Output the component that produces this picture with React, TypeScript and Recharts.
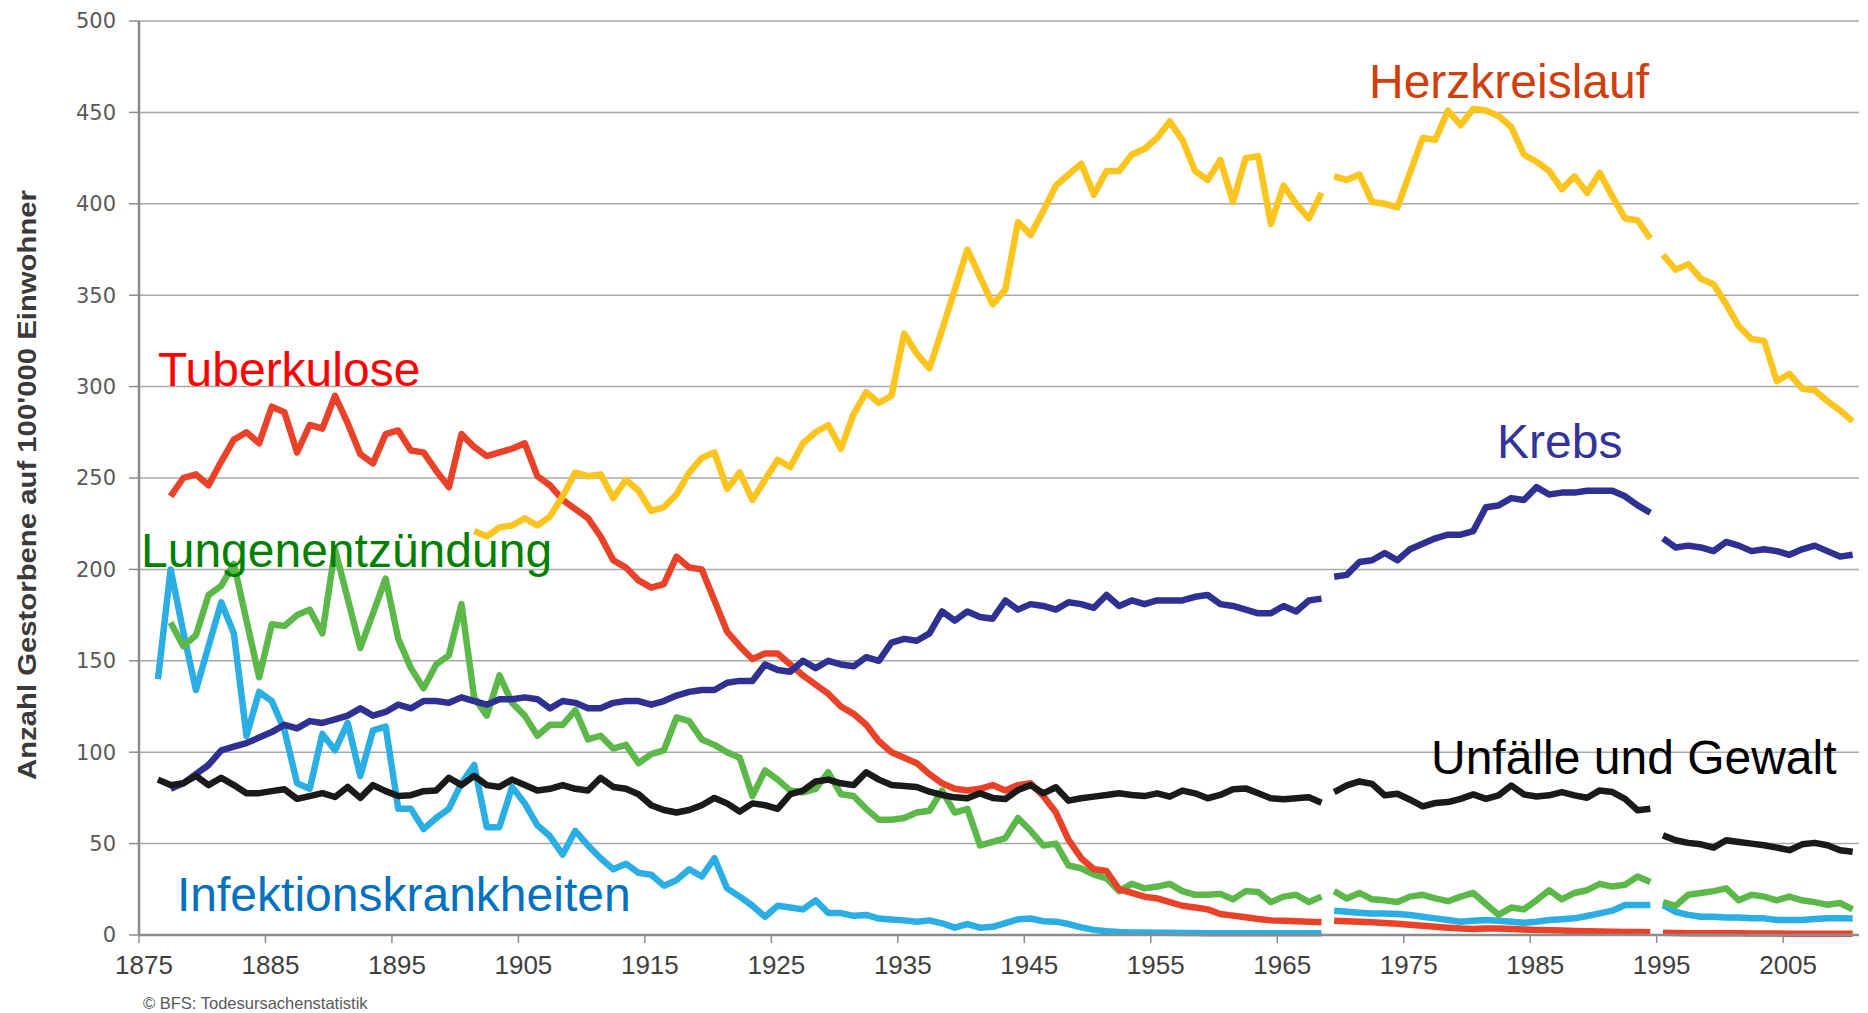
import { LineChart, Line, XAxis, YAxis, CartesianGrid } from "recharts";

// Todesursachen in der Schweiz, Gestorbene auf 100'000 Einwohner, 1876-2010
const FIRST_YEAR = 1876;
const LAST_YEAR = 2010;
// the statistic was revised in 1969 and 1995, the lines break there
const BREAKS = [1969, 1995];

const years = Array.from({ length: LAST_YEAR - FIRST_YEAR + 1 }, (_, i) => FIRST_YEAR + i);

// one value per year, 1876 .. 2010 (ten per row)
const tuberkulose = [
  null, 240, 250, 252, 246, 259, 271, 275, 269, 289,
  286, 264, 279, 277, 295, 280, 263, 258, 274, 276,
  265, 264, 254, 245, 274, 267, 262, 264, 266, 269,
  251, 246, 238, 233, 228, 218, 205, 201, 194, 190,
  192, 207, 201, 200, 183, 166, 158, 151, 154, 154,
  148, 142, 137, 132, 125, 121, 115, 106, 100, 97,
  94, 88, 83, 80, 79, 80, 82, 79, 82, 83,
  76, 67, 52, 42, 36, 35, 25, 23, 21, 20,
  18, 16, 15, 14, 11.5, 10.6, 9.7, 8.8, 8, 7.8,
  7.5, 7.3, 7, 7.8, 7.5, 7.2, 7, 6.6, 6.2, 5.6,
  5, 4.5, 4, 3.5, 3.3, 3.6, 3.6, 3.3, 3, 2.8,
  2.6, 2.4, 2.2, 2, 1.9, 1.8, 1.7, 1.6, 1.5, 1.2,
  1.1, 1, 1, 0.9, 0.9, 0.9, 0.8, 0.8, 0.8, 0.7,
  0.7, 0.7, 0.7, 0.7, 0.7,
];

const herzkreislauf = [
  null, null, null, null, null, null, null, null, null, null,
  null, null, null, null, null, null, null, null, null, null,
  null, null, null, null, null, 221, 218, 223, 224, 228,
  224, 229, 240, 253, 251, 252, 239, 249, 243, 232,
  234, 241, 253, 261, 264, 244, 253, 238, 249, 260,
  256, 269, 275, 279, 266, 285, 297, 291, 295, 329,
  318, 310, 331, 353, 375, 360, 345, 353, 390, 383,
  396, 410, 416, 422, 405, 418, 418, 427, 430, 436,
  445, 435, 418, 413, 424, 401, 425, 426, 389, 410,
  400, 392, 406, 415, 413, 416, 401, 400, 398, 417,
  436, 435, 451, 443, 452, 451, 448, 442, 427, 423,
  418, 408, 415, 406, 417, 404, 392, 391, 381, 372,
  364, 367, 359, 356, 345, 333, 326, 325, 303, 307,
  299, 298, 292, 287, 281,
];

const krebs = [
  null, 80, 83, 88, 93, 101, 103, 105, 108, 111,
  115, 113, 117, 116, 118, 120, 124, 120, 122, 126,
  124, 128, 128, 127, 130, 128, 126, 129, 129, 130,
  129, 124, 128, 127, 124, 124, 127, 128, 128, 126,
  128, 131, 133, 134, 134, 138, 139, 139, 148, 145,
  144, 150, 146, 150, 148, 147, 152, 150, 160, 162,
  161, 165, 177, 172, 177, 174, 173, 183, 178, 181,
  180, 178, 182, 181, 179, 186, 180, 183, 181, 183,
  183, 183, 185, 186, 181, 180, 178, 176, 176, 180,
  177, 183, 184, 196, 197, 204, 205, 209, 205, 211,
  214, 217, 219, 219, 221, 234, 235, 239, 238, 245,
  241, 242, 242, 243, 243, 243, 240, 235, 231, 217,
  212, 213, 212, 210, 215, 213, 210, 211, 210, 208,
  211, 213, 210, 207, 208,
];

const lungenentzuendung = [
  null, 171, 158, 164, 186, 191, 203, 172, 141, 170,
  169, 175, 178, 165, 211, 184, 157, 176, 195, 162,
  146, 135, 148, 153, 181, 130, 120, 142, 127, 120,
  109, 115, 115, 123, 107, 109, 102, 104, 94, 99,
  101, 119, 117, 107, 104, 100, 97, 76, 90, 85,
  79, 78, 80, 89, 77, 76, 69, 63, 63, 64,
  67, 68, 79, 67, 69, 49, 51, 53, 64, 57,
  49, 50, 38, 36.5, 33, 31, 24, 28, 25.5, 26.5,
  28, 24, 22, 22, 22.5, 19.5, 24, 23.5, 18, 21,
  22, 18, 21, 24, 20, 23, 19.5, 19, 18, 21,
  22, 20, 18.5, 21, 23, 17, 11, 15, 14, 19,
  24.5, 19.5, 23, 24.5, 28, 26.5, 27.5, 32, 29, 18,
  16, 22, 23, 24, 25.5, 19, 22, 21, 19, 21,
  19, 18, 16.5, 17.5, 14,
];

const infektionskrankheiten = [
  140, 200, 166, 134, 158, 182, 165, 109, 133, 128,
  112, 83, 80, 110, 101, 116, 87, 112, 114, 69,
  69, 58, 64, 69, 83, 93, 59, 59, 81, 72,
  60, 54, 44, 57, 49, 42, 36, 39, 34, 33,
  27, 30, 36, 32, 42, 25.5, 21, 16, 10, 16,
  15, 14, 19, 12, 12, 10.5, 11, 9, 8.5, 8,
  7.3, 8, 6.4, 4, 6, 4, 4.5, 6.5, 8.6, 9,
  7.5, 7.3, 6, 4.2, 2.8, 2, 1.6, 1.4, 1.3, 1.2,
  1.2, 1.1, 1.1, 1, 1, 1, 1, 1, 1, 1,
  1, 1, 1, 13.3, 12.7, 12.2, 11.8, 11.8, 11.5, 10.9,
  10, 9.1, 8.2, 7.3, 7.8, 8.2, 7.8, 7.3, 6.7, 7.3,
  8.2, 8.6, 9.1, 10.4, 11.8, 13.3, 16.4, 16.4, 16.4, 16.4,
  12.7, 11, 10, 10, 9.6, 9.6, 9.1, 9.1, 8.2, 8.2,
  8.2, 8.7, 9.1, 9.1, 9,
];

const unfaelle = [
  85, 82, 83, 87, 82, 86, 82, 77.6, 77.6, 78.7,
  79.7, 74.5, 76, 77.6, 75.5, 81, 75, 82, 78.7, 76,
  76.5, 78.7, 79, 86, 82, 87, 82, 81, 85, 82,
  79, 80, 82, 80, 79, 86, 81, 80, 77, 71,
  68.4, 67, 68.4, 71, 75, 72, 67.5, 72, 71, 69,
  77, 79, 84, 85, 83, 82, 89, 85, 82, 81.5,
  81, 78.4, 76.6, 75.3, 74.8, 77.5, 75, 74.4, 79.3, 82,
  77.5, 80.8, 73.5, 74.8, 75.7, 76.6, 77.5, 76.6, 76, 77.5,
  75.7, 79, 77.5, 74.8, 76.6, 79.7, 80.2, 77.5, 74.8, 74.2,
  74.8, 75.3, 72.4, 78.2, 81.8, 84, 82.7, 76.4, 77.3, 74,
  70.4, 72.2, 72.7, 74.5, 76.9, 74.5, 76.4, 81.8, 76.9, 75.8,
  76.4, 78.2, 76.4, 75.1, 79.1, 78.2, 74.5, 68.2, 69.1, 54.5,
  51.8, 50.4, 49.6, 47.8, 51.8, 50.9, 50, 49.1, 47.8, 46.4,
  49.6, 50.4, 49.1, 46.4, 45.5,
];

const xTicks = [1875, 1885, 1895, 1905, 1915, 1925, 1935, 1945, 1955, 1965, 1975, 1985, 1995, 2005];
const yTicks = [0, 50, 100, 150, 200, 250, 300, 350, 400, 450, 500];

// drawing order: later ones lie on top
const SERIES = [
  { key: "infekt", values: infektionskrankheiten, color: "#2AAEE4" },
  { key: "lungen", values: lungenentzuendung, color: "#5DB84A" },
  { key: "tb", values: tuberkulose, color: "#EA4228" },
  { key: "krebs", values: krebs, color: "#2F3192" },
  { key: "herz", values: herzkreislauf, color: "#FCC41E" },
  { key: "unfall", values: unfaelle, color: "#1A1A1A" },
];

const LABELS = [
  { text: "Tuberkulose", x: 158, y: 386, color: "#FF0000" },
  { text: "Lungenentzündung", x: 141, y: 567, color: "#008000" },
  { text: "Infektionskrankheiten", x: 177, y: 911, color: "#0070C0" },
  { text: "Herzkreislauf", x: 1369, y: 98, color: "#D0400C" },
  { text: "Krebs", x: 1497, y: 458, color: "#333399" },
  { text: "Unfälle und Gewalt", x: 1431, y: 774, color: "#000000" },
];

function segmentOf(year: number) {
  if (year < BREAKS[0]) return 0;
  if (year < BREAKS[1]) return 1;
  return 2;
}

// annual rates are plotted at mid-year
const rows = years.map((year, i) => {
  const row: Record<string, number | null> = { t: year + 0.5 };
  const seg = segmentOf(year);
  for (const s of SERIES) {
    for (let k = 0; k < 3; k++) {
      row[s.key + k] = k === seg ? s.values[i] : null;
    }
  }
  return row;
});

const FONT = "'Liberation Sans', Arial, sans-serif";

function XTick(props: any) {
  const { x, y, payload } = props;
  return (
    <text
      x={x + 5}
      y={y}
      dy="0.71em"
      textAnchor="middle"
      fill="#404040"
      fontSize={26}
      fontFamily="'Liberation Sans Narrow', 'Arial Narrow', 'Liberation Sans', sans-serif"
    >
      {payload.value}
    </text>
  );
}

export default function App() {
  return (
    <div style={{ position: "absolute", left: 0, top: 0, width: 1868, height: 1013, background: "#fff" }}>
      <LineChart
        width={1868}
        height={1013}
        data={rows}
        margin={{ top: 21, right: 9, bottom: 28, left: 0 }}
        style={{ fontFamily: FONT }}
      >
        <CartesianGrid vertical={false} stroke="#a8a8a8" strokeWidth={1.5} />
        <XAxis
          type="number"
          dataKey="t"
          domain={[1875, 2011]}
          ticks={xTicks}
          interval={0}
          allowDataOverflow
          height={50}
          tickSize={8}
          tickMargin={13}
          stroke="#8c8c8c"
          axisLine={{ stroke: "#8c8c8c", strokeWidth: 2.5 }}
          tickLine={{ stroke: "#8c8c8c", strokeWidth: 1.5 }}
          tick={<XTick />}
        />
        <YAxis
          domain={[0, 500]}
          ticks={yTicks}
          interval={0}
          width={139}
          tickSize={10}
          tickMargin={13}
          axisLine={{ stroke: "#8c8c8c", strokeWidth: 2.5 }}
          tickLine={{ stroke: "#8c8c8c", strokeWidth: 1.5 }}
          tick={{ fill: "#595959", fontSize: 21, fontFamily: "'DejaVu Sans', sans-serif" }}
        />
        <YAxis
          yAxisId="border"
          orientation="right"
          width={0}
          tick={false}
          tickLine={false}
          axisLine={{ stroke: "#a0a0a0", strokeWidth: 2 }}
        />
        {SERIES.flatMap((s) =>
          [0, 1, 2].map((k) => (
            <Line
              key={s.key + k}
              dataKey={s.key + k}
              stroke={s.color}
              strokeWidth={6.5}
              strokeLinejoin="round"
              strokeLinecap="butt"
              dot={false}
              activeDot={false}
              connectNulls={false}
              isAnimationActive={false}
            />
          ))
        )}
      </LineChart>
      <svg
        width={1868}
        height={1013}
        style={{ position: "absolute", left: 0, top: 0, pointerEvents: "none" }}
      >
        {LABELS.map((l) => (
          <text key={l.text} x={l.x} y={l.y} fill={l.color} fontSize={48} fontFamily={FONT}>
            {l.text}
          </text>
        ))}
        <text
          transform="translate(27 485) rotate(-90)"
          textAnchor="middle"
          dominantBaseline="central"
          fontSize={25}
          fontWeight="bold"
          fill="#3a3a3a"
          fontFamily="'Liberation Sans Narrow', 'Liberation Sans', sans-serif"
          textLength={590}
          lengthAdjust="spacingAndGlyphs"
        >
          Anzahl Gestorbene auf 100'000 Einwohner
        </text>
        <text x={143} y={1009} fontSize={16.5} fill="#595959" fontFamily={FONT}>
          © BFS: Todesursachenstatistik
        </text>
      </svg>
    </div>
  );
}
